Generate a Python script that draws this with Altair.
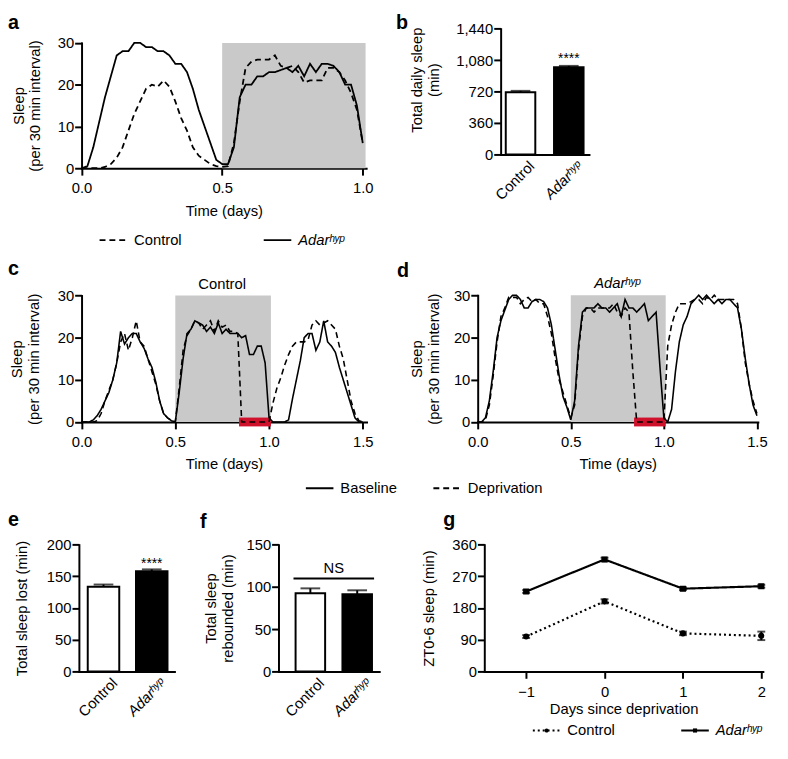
import altair as alt
import pandas as pd

FONT = "Liberation Sans"
W, H = 772, 736
GREY = "#c9c9c9"
RED = "#d0112b"
ADAR = "Adarʰʸᵖ"

# ---------------- data ----------------
bins_per_day = 48  # 30-min intervals
groups = ["Control", "Adar"]
conditions = ["Baseline", "Deprivation"]

a_control = [0, 0, 0, 0, 0.3, 1, 2.5, 5, 9, 13, 16, 19, 20, 19.5, 21, 19.5, 16, 12, 9, 5, 3, 2, 1, 0.5, 0.3,
             0.5, 6, 16, 24, 25.5, 26, 26, 26, 27, 24.5, 24, 24.5, 23, 20.5, 21, 21, 21, 24, 24, 23, 21, 18, 14, 6]
a_adar = [0, 0.5, 5, 11, 17, 22, 27, 28, 28, 30, 30, 29, 29, 28, 28, 27, 25, 25, 23, 19, 14, 10, 6, 2, 1,
          1, 5, 17, 20, 20, 22, 22, 23, 23, 23.5, 24, 23, 24.5, 22, 25, 23, 25, 25, 24.5, 23, 20, 20, 15, 6]

c_baseline = [0, 0, 0, 0.5, 1.5, 3, 5, 7, 10, 14, 21.5, 18.5, 20, 21, 21, 19, 17.5, 15, 13, 9.5, 5, 2, 1, 0.3, 0,
              7, 15, 21, 22, 24, 23.5, 23, 21.5, 22.5, 21, 23.5, 21, 22, 21, 21, 21, 20, 20.5, 16, 16, 18, 18, 14, 1,
              0, 0, 0, 0, 0.5, 5.5, 10, 14.5, 20, 21, 21, 17, 19, 24, 19, 18, 16.5, 13, 10, 7, 4, 1, 0, 0]
c_deprivation = [0, 0, 0, 0, 0.3, 2, 5, 7.5, 10, 14, 19, 21, 17, 20, 24, 19, 18, 15, 12, 9, 5, 2, 1, 0.3, 0,
                 8, 17, 20.5, 22, 24, 23.5, 22, 23, 24, 21.5, 24, 22.5, 23, 21.5, 21.5, 21, 0, 0, 0, 0, 0, 0, 0, 0,
                 4.5, 8, 10.5, 13.5, 16, 18, 19, 19, 19, 19.5, 23, 24, 23, 23.5, 24, 23, 22, 18, 15, 10, 5, 2, 0.3, 0]

d_baseline = [0, 0, 1, 5, 12, 20, 24, 26.5, 29, 30, 30, 29, 27, 27, 28.5, 29, 29, 28.5, 27, 23, 17, 11, 6, 3.5, 0.5,
              5, 18, 26, 27, 27, 27, 28, 27, 27, 26, 27, 28, 25, 29, 27, 27, 26, 27, 28, 24, 25, 26, 13, 1,
              0, 3, 12, 19, 23, 25, 28, 29, 30, 29, 30, 29, 28, 29, 28, 29, 29, 28, 27, 22, 15, 9, 4, 1.5]
d_deprivation = [0, 0, 0.5, 4, 11, 19, 25, 27, 29.5, 29.5, 29.5, 28, 29, 29.5, 28.5, 29, 28, 28, 25, 21, 15, 10, 7, 4, 1,
                 4, 17, 25, 27, 27, 26, 27, 27, 27, 27, 28, 26, 25, 27, 26, 12, 0, 0, 0, 0, 0, 0, 0, 0,
                 18, 23, 26, 28, 28, 28, 28.5, 29, 29, 28, 29.5, 29, 30, 29, 29, 29, 29, 29, 28, 22, 14, 9, 5, 2]

dark_phase = [0.5, 1.01]
deprivation_window = [0.84, 1.01]

bar_pos = [0, 1]
b_mean = [712, 1000]
b_err = [16, 14]
b_sig = ["", "****"]
e_mean = [133.5, 158]
e_err = [3.6, 3.0]
e_sig = ["", "****"]
f_mean = [92.5, 91.3]
f_err = [5.8, 4.7]
f_ns_level = 110

g_days = [-1, 0, 1, 2]
g_control = [99, 199, 108, 101]
g_control_err = [4, 6, 5, 12]
g_adar = [227, 318, 235, 242]
g_adar_err = [4, 5, 4, 4]


# ---------------- helpers ----------------
def lin(domain, rng):
    return alt.Scale(domain=domain, range=rng, nice=False, zero=False, padding=0)


def xaxis(axis_y, values, title=None, fmt=None, title_y=None, **kw):
    p = dict(orient="bottom", offset=axis_y - H, values=values, title=title)
    if fmt:
        p["format"] = fmt
    if title_y is not None:
        p["titleY"] = title_y
        p["titleBaseline"] = "middle"
    p.update(kw)
    return alt.Axis(**p)


def yaxis(axis_x, values, title, title_x, fmt=None, **kw):
    p = dict(orient="left", offset=-axis_x, values=values, title=title, titleX=title_x,
             titleBaseline="middle", titleAngle=270, titleLineHeight=17)
    if fmt:
        p["format"] = fmt
    p.update(kw)
    return alt.Axis(**p)


def ts_df(series, names):
    rows = []
    for name, vals in zip(names, series):
        for i, v in enumerate(vals):
            rows.append({"t": i / bins_per_day, "v": v, "grp": name})
    return pd.DataFrame(rows)


LINE_SYMBOL = "M-2,0L2,0"
CIRCLE = "M-2,0M2,0M0.3,0A0.3,0.3,0,1,1,-0.3,0A0.3,0.3,0,1,1,0.3,0Z"
SQUARE = "M-2,0M2,0M-0.3,-0.3L0.3,-0.3L0.3,0.3L-0.3,0.3Z"


def legend(lx, ly, colpad, **kw):
    p = dict(orient="none", legendX=lx, legendY=ly, direction="horizontal", title=None,
             symbolSize=196, symbolStrokeWidth=2, symbolStrokeColor="black",
             labelOffset=13, columnPadding=colpad, labelFont=FONT, labelFontSize=15, labelColor="black",
             labelExpr=f"datum.value == 'Adar' ? '{ADAR}' : datum.label",
             labelFontStyle=alt.ExprRef(expr="datum.value == 'Adar' ? 'italic' : 'normal'"),
             padding=0)
    p.update(kw)
    return alt.Legend(**p)


# ---------------- panel a ----------------
xa = lin([0, 1.012], [74.7, 363.7])
ya = lin([0, 30], [157, 29.7])
ax_xa = xaxis(157, [0, 0.5, 1], "Time (days)", ".1f", 43)
ax_ya = yaxis(74.7, [0, 10, 20, 30], ["Sleep", "(per 30 min interval)"], -64.4)
shade_a = pd.DataFrame({"x0": [dark_phase[0]], "x1": [dark_phase[1]], "y0": [0], "y1": [30]})
pa_shade = alt.Chart(shade_a).mark_rect(color=GREY).encode(
    x=alt.X("x0:Q", scale=xa, axis=ax_xa), x2="x1:Q",
    y=alt.Y("y0:Q", scale=ya, axis=ax_ya), y2="y1:Q",
)
pa_lines = alt.Chart(ts_df([a_control, a_adar], groups)).mark_line(color="black", strokeWidth=1.8).encode(
    x=alt.X("t:Q", scale=xa, axis=ax_xa),
    y=alt.Y("v:Q", scale=ya, axis=ax_ya),
    strokeDash=alt.StrokeDash("grp:N", scale=alt.Scale(domain=groups, range=[[6, 4], [1, 0]]),
                              legend=legend(99, 222, 78.7, symbolType=LINE_SYMBOL)),
)
panel_a = alt.layer(pa_shade, pa_lines)


# ---------------- panels c & d ----------------
def sleep_panel(base, depr, xs, ys, axis_x, title_x, header, italic, leg):
    ax_x = xaxis(414.7, [0, 0.5, 1, 1.5], "Time (days)", ".1f", 42)
    ax_y = yaxis(axis_x, [0, 10, 20, 30], ["Sleep", "(per 30 min interval)"], title_x)
    df = ts_df([base, depr], conditions)
    shade = pd.DataFrame({"x0": [dark_phase[0]], "x1": [dark_phase[1]], "y0": [0], "y1": [30]})
    win = pd.DataFrame({"x0": [deprivation_window[0]], "x1": [deprivation_window[1]], "y": [0]})
    hdr = pd.DataFrame({"x": [(dark_phase[0] + 1.0) / 2], "y": [30], "s": [header]})
    l_shade = alt.Chart(shade).mark_rect(color=GREY).encode(
        x=alt.X("x0:Q", scale=xs, axis=ax_x), x2="x1:Q",
        y=alt.Y("y0:Q", scale=ys, axis=ax_y), y2="y1:Q",
    )
    l_win = alt.Chart(win).mark_rule(color=RED, strokeWidth=9, strokeCap="butt").encode(
        x=alt.X("x0:Q", scale=xs, axis=ax_x), x2="x1:Q", y=alt.Y("y:Q", scale=ys, axis=ax_y))
    l_lines = alt.Chart(df).mark_line(color="black", strokeWidth=1.6).encode(
        x=alt.X("t:Q", scale=xs, axis=ax_x),
        y=alt.Y("v:Q", scale=ys, axis=ax_y),
        strokeDash=alt.StrokeDash("grp:N", scale=alt.Scale(domain=conditions, range=[[1, 0], [6, 4]]),
                                  legend=leg),
    )
    l_hdr = alt.Chart(hdr).mark_text(fontSize=15, fontStyle="italic" if italic else "normal",
                                     baseline="middle", dy=-12).encode(
        x=alt.X("x:Q", scale=xs, axis=ax_x), y=alt.Y("y:Q", scale=ys, axis=ax_y), text="s:N")
    return alt.layer(l_shade, l_win, l_lines, l_hdr)


xc = lin([0, 1.52], [74.7, 364.1])
yc = lin([0, 30], [414.7, 286.3])
panel_c = sleep_panel(c_baseline, c_deprivation, xc, yc, 74.7, -66.2, "Control", False,
                      legend(308.5, 474, 32.5, symbolType=LINE_SYMBOL))
xd = lin([0, 1.505], [477, 761.5])
yd = lin([0, 30], [414.7, 286])
panel_d = sleep_panel(d_baseline, d_deprivation, xd, yd, 477, -61.7, ADAR, True, None)


# ---------------- bar panels ----------------
def bar_df(means, errs, sig=None):
    df = pd.DataFrame({"pos": bar_pos, "mean": means, "err": errs})
    df["top"] = df["mean"] + df["err"]
    df["zero"] = 0
    df["sig"] = sig if sig else ["", ""]
    return df


def bar_axes(axis_x, axis_y, yvals, ytitle, title_x, yfmt=None, title_y=None):
    ax_x = xaxis(axis_y, [0, 1], None, ticks=False, labelAngle=315, labelAlign="right",
                 labelBaseline="top", labelPadding=4, labelOffset=6,
                 labelExpr=f"datum.value == 0 ? 'Control' : '{ADAR}'",
                 labelFontStyle={"condition": {"test": "datum.value == 1", "value": "italic"}, "value": "normal"})
    ykw = {}
    if title_y is not None:
        ykw["titleY"] = title_y
    ax_y = yaxis(axis_x, yvals, ytitle, title_x, fmt=yfmt, **ykw)
    return ax_x, ax_y


def bar_layers(df, xs, ys, ax_x, ax_y, bar_w, star_dy=-1):
    bars = alt.Chart(df).mark_bar(width=bar_w, stroke="black", strokeWidth=2).encode(
        x=alt.X("pos:Q", scale=xs, axis=ax_x),
        y=alt.Y("mean:Q", scale=ys, axis=ax_y), y2="zero:Q",
        fill=alt.condition("datum.pos == 0", alt.value("white"), alt.value("black")),
    )
    err = alt.Chart(df).mark_rule(color="black", strokeWidth=2).encode(
        x=alt.X("pos:Q", scale=xs, axis=ax_x), y=alt.Y("mean:Q", scale=ys, axis=ax_y), y2="top:Q")
    cap = alt.Chart(df).mark_tick(color="black", orient="horizontal", size=20, thickness=2).encode(
        x=alt.X("pos:Q", scale=xs, axis=ax_x), y=alt.Y("top:Q", scale=ys, axis=ax_y))
    stars = alt.Chart(df).mark_text(fontSize=14, baseline="alphabetic", dy=star_dy).encode(
        x=alt.X("pos:Q", scale=xs, axis=ax_x), y=alt.Y("top:Q", scale=ys, axis=ax_y), text="sig:N")
    return [bars, err, cap, stars]


xb = lin([-0.412, 1.418], [500.3, 590])
yb = lin([0, 1440], [143, 15.3])
axb = bar_axes(500.3, 143, [0, 360, 720, 1080, 1440], ["Total daily sleep", "(min)"], -85.3, ",d", 67)
panel_b = alt.layer(*bar_layers(bar_df(b_mean, b_err, b_sig), xb, yb, *axb, 30, star_dy=-3))

xe = lin([-0.51, 1.47], [72, 169])
ye = lin([0, 200], [668, 539.3])
axe = bar_axes(72, 668, [0, 50, 100, 150, 200], "Total sleep lost (min)", -58)
panel_e = alt.layer(*bar_layers(bar_df(e_mean, e_err, e_sig), xe, ye, *axe, 32))

xf = lin([-0.68, 1.47], [274.7, 377])
yf = lin([0, 150], [668, 539.3])
axf = bar_axes(274.7, 668, [0, 50, 100, 150], ["Total sleep", "rebounded (min)"], -68.7)
bar_half = 0.36
ns_df = pd.DataFrame({"lo": [bar_pos[0] - bar_half], "hi": [bar_pos[1] + bar_half], "level": [f_ns_level],
                      "mid": [(bar_pos[0] + bar_pos[1]) / 2], "s": ["NS"]})
f_ns_rule = alt.Chart(ns_df).mark_rule(color="black", strokeWidth=2).encode(
    x=alt.X("lo:Q", scale=xf, axis=axf[0]), x2="hi:Q", y=alt.Y("level:Q", scale=yf, axis=axf[1]))
f_ns_text = alt.Chart(ns_df).mark_text(fontSize=15, baseline="alphabetic", dy=-6).encode(
    x=alt.X("mid:Q", scale=xf, axis=axf[0]), y=alt.Y("level:Q", scale=yf, axis=axf[1]), text="s:N")
panel_f = alt.layer(*bar_layers(bar_df(f_mean, f_err), xf, yf, *axf, 30), f_ns_rule, f_ns_text)

# ---------------- panel g ----------------
xg = lin([-1.534, 2.02], [483.7, 766.6])
yg = lin([0, 360], [668, 539.3])
ax_xg = xaxis(668, g_days, "Days since deprivation", None, 38)
ax_yg = yaxis(483.7, [0, 90, 180, 270, 360], "ZT0-6 sleep (min)", -57)
g_df = pd.DataFrame({"day": g_days * 2, "v": g_control + g_adar, "err": g_control_err + g_adar_err,
                     "grp": ["Control"] * len(g_days) + ["Adar"] * len(g_days)})
g_df["lo"] = g_df["v"] - g_df["err"]
g_df["hi"] = g_df["v"] + g_df["err"]
g_lines = alt.Chart(g_df).mark_line(color="black", strokeWidth=2.2).encode(
    x=alt.X("day:Q", scale=xg, axis=ax_xg),
    y=alt.Y("v:Q", scale=yg, axis=ax_yg),
    strokeDash=alt.StrokeDash("grp:N", scale=alt.Scale(domain=groups, range=[[2, 3], [1, 0]]),
                              legend=legend(539, 720, 62.7, symbolType=LINE_SYMBOL)),
)
g_err = alt.Chart(g_df).mark_rule(color="black", strokeWidth=2).encode(
    x=alt.X("day:Q", scale=xg, axis=ax_xg), y=alt.Y("lo:Q", scale=yg, axis=ax_yg), y2="hi:Q")
g_caps = alt.Chart(g_df).mark_tick(color="black", orient="horizontal", size=8, thickness=2).encode(
    x=alt.X("day:Q", scale=xg, axis=ax_xg), y=alt.Y("hi:Q", scale=yg, axis=ax_yg))
g_caps2 = alt.Chart(g_df).mark_tick(color="black", orient="horizontal", size=8, thickness=2).encode(
    x=alt.X("day:Q", scale=xg, axis=ax_xg), y=alt.Y("lo:Q", scale=yg, axis=ax_yg))
panel_g = alt.layer(g_lines, g_err, g_caps, g_caps2)

g_points = alt.Chart(g_df).mark_point(filled=True, fill="black", stroke="black", strokeWidth=2,
                                      size=196, opacity=1).encode(
    x=alt.X("day:Q", scale=xg, axis=None),
    y=alt.Y("v:Q", scale=yg, axis=None),
    shape=alt.Shape("grp:N", scale=alt.Scale(domain=groups, range=[CIRCLE, SQUARE]),
                    legend=legend(539, 720, 62.7, labelOpacity=0, symbolFillColor="black")),
)

# ---------------- panel letters ----------------
letters = []
for s, x, y in [("a", 0, 16), ("b", 394, 16), ("c", 0, 265), ("d", 395, 267),
                ("e", 0, 520), ("f", 195, 522), ("g", 442, 520)]:
    letters.append(alt.Chart(pd.DataFrame({"s": [s]})).mark_text(
        fontSize=20, fontWeight="bold", align="left", baseline="alphabetic").encode(
        text="s:N", x=alt.value(x), y=alt.value(y)))

chart = alt.layer(panel_a, panel_b, panel_c, panel_d, panel_e, panel_f, panel_g, g_points, *letters).resolve_scale(
    x="independent", y="independent", strokeDash="independent", shape="independent"
).resolve_axis(x="independent", y="independent").resolve_legend(
    strokeDash="independent", shape="independent"
).properties(width=W, height=H, padding=0).configure_view(stroke=None).configure_axis(
    domainColor="black", domainWidth=2, domainCap="square", tickColor="black", tickWidth=2, tickSize=7,
    labelFont=FONT, labelFontSize=15, labelColor="black", titleFont=FONT, titleFontSize=15,
    titleFontWeight="normal", titleColor="black", grid=False, labelFlush=False, labelOverlap=False, zindex=1
).configure_axisX(labelPadding=6).configure_axisY(labelPadding=1).configure_text(
    font=FONT, color="black"
).configure_legend(labelFont=FONT, labelFontSize=15, labelColor="black")

chart.save("out.html", embed_options={"renderer": "svg", "actions": False})
